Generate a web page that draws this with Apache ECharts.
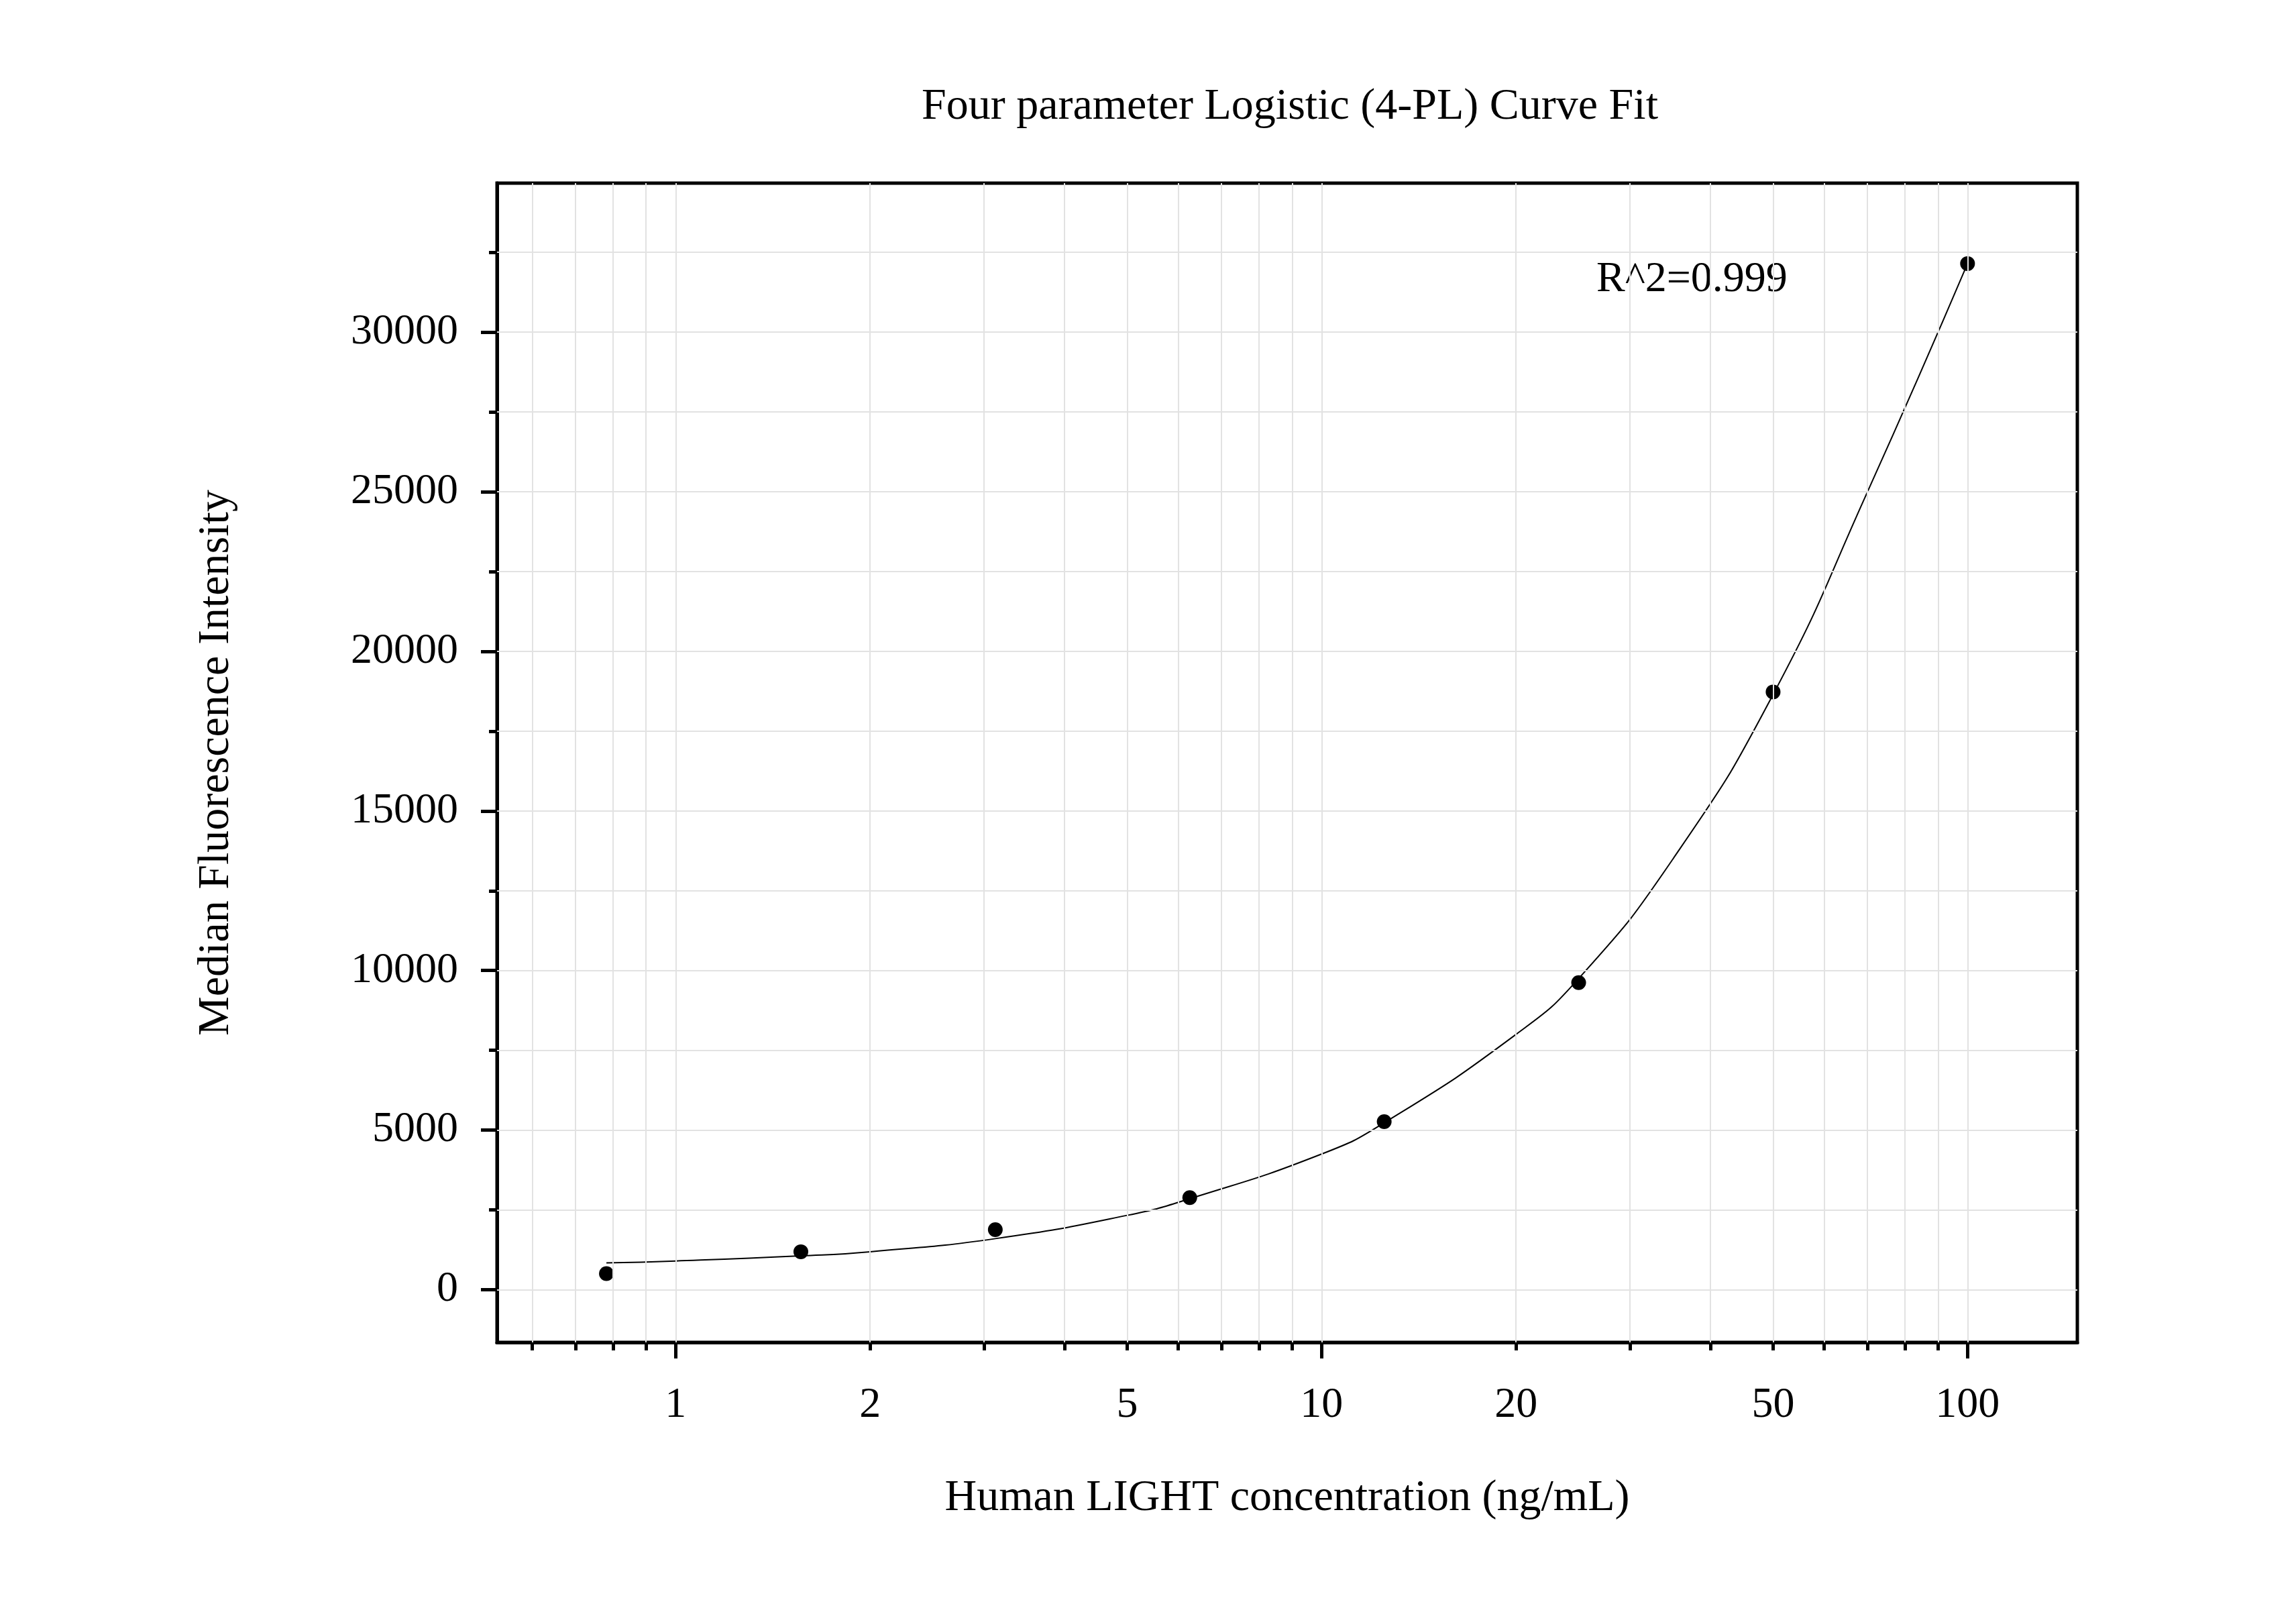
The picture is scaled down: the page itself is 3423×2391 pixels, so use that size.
<!DOCTYPE html>
<html><head><meta charset="utf-8">
<script src="https://cdn.jsdelivr.net/npm/echarts@6/dist/echarts.min.js"></script>
<style>html,body{margin:0;padding:0;background:#fff}#c{width:3423px;height:2391px}</style>
</head><body><div id="c"></div>
<script>
const concentrations = [0.78125, 1.5625, 3.125, 6.25, 12.5, 25, 50, 100];
const mfi = [504, 1190, 1880, 2885, 5265, 9620, 18730, 32150];
const curveX = [0.78125, 1, 1.5625, 2, 3.125, 5, 6.25, 10, 12.5, 20, 25, 35, 50, 70, 100];
const curveY = [840, 900, 1060, 1190, 1600, 2330, 2850, 4250, 5230, 8000, 9750, 13500, 18650, 25000, 32150];
const xMajorTicks = [1, 10, 100];
const xLabelTicks = [1, 2, 5, 10, 20, 50, 100];
const xMinorTicks = [0.6,0.7,0.8,0.9,2,3,4,5,6,7,8,9,20,30,40,50,60,70,80,90];
const xGrid = [0.6,0.7,0.8,0.9,1,2,3,4,5,6,7,8,9,10,20,30,40,50,60,70,80,90,100];
const yMajorTicks = [0, 5000, 10000, 15000, 20000, 25000, 30000];
const yMinorTicks = [2500, 7500, 12500, 17500, 22500, 27500, 32500];
const yGrid = [0,2500,5000,7500,10000,12500,15000,17500,20000,22500,25000,27500,30000,32500];

const FONT = 'Liberation Serif';
const XMIN = 0.529, XMAX = 147.9, YMIN = -1650, YMAX = 34670;
const chart = echarts.init(document.getElementById('c'));
const noLine = {show:false, onZero:false};
chart.setOption({
  animation:false,
  grid:{left:741, right:326, top:273, bottom:390, show:true, borderColor:'#000', borderWidth:5, backgroundColor:'transparent'},
  graphic:[
    {type:'text', left:2380, top:385, style:{text:'R^2=0.999', font:'64px "Liberation Serif"', fill:'#000'}},
    {type:'text', x:1923, y:160, style:{text:'Four parameter Logistic (4-PL) Curve Fit', font:'66px "Liberation Serif"', fill:'#000', textAlign:'center', textVerticalAlign:'middle'}}
  ],
  xAxis:[
    {type:'log', min:XMIN, max:XMAX, name:'Human LIGHT concentration (ng/mL)', nameLocation:'middle', nameGap:200,
     nameTextStyle:{fontFamily:FONT, fontSize:66, color:'#000'},
     axisLine:{show:true, onZero:false, lineStyle:{color:'#000', width:5}},
     axisTick:{show:true, inside:false, length:24, lineStyle:{color:'#000', width:5}, customValues:xMajorTicks},
     axisLabel:{customValues:xLabelTicks, fontFamily:FONT, fontSize:64, color:'#000', margin:62},
     splitLine:{show:false}, minorTick:{show:false}},
    {type:'log', min:XMIN, max:XMAX, position:'bottom', gridIndex:0,
     axisLine:noLine, axisLabel:{show:false}, splitLine:{show:false},
     axisTick:{show:true, length:12, lineStyle:{color:'#000', width:5}, customValues:xMinorTicks}}
  ],
  yAxis:[
    {type:'value', min:YMIN, max:YMAX, name:'Median Fluorescence Intensity', nameLocation:'middle', nameGap:385,
     nameTextStyle:{fontFamily:FONT, fontSize:66, color:'#000'},
     axisLine:{show:true, onZero:false, lineStyle:{color:'#000', width:5}},
     axisTick:{show:true, length:24, lineStyle:{color:'#000', width:5}, customValues:yMajorTicks},
     axisLabel:{customValues:yMajorTicks, formatter:v=>String(v), fontFamily:FONT, fontSize:64, color:'#000', margin:58},
     splitLine:{show:false}},
    {type:'value', min:YMIN, max:YMAX, position:'left',
     axisLine:noLine, axisLabel:{show:false}, splitLine:{show:false},
     axisTick:{show:true, length:12, lineStyle:{color:'#000', width:5}, customValues:yMinorTicks}}
  ],
  series:[
    {type:'line', data:[], silent:true, markLine:{symbol:'none', silent:true, label:{show:false},
      lineStyle:{color:'#e2e2e2', width:2, type:'solid'},
      data:[...xGrid.map(v=>({xAxis:v})), ...yGrid.map(v=>({yAxis:v}))]}},
    {type:'line', data:curveX.map((x,i)=>[x,curveY[i]]), smooth:0.5, showSymbol:false,
      lineStyle:{color:'#000', width:2}, z:3},
    {type:'scatter', data:concentrations.map((x,i)=>[x,mfi[i]]), symbolSize:22,
      itemStyle:{color:'#000', opacity:1}, z:4}
  ]
});
</script></body></html>
